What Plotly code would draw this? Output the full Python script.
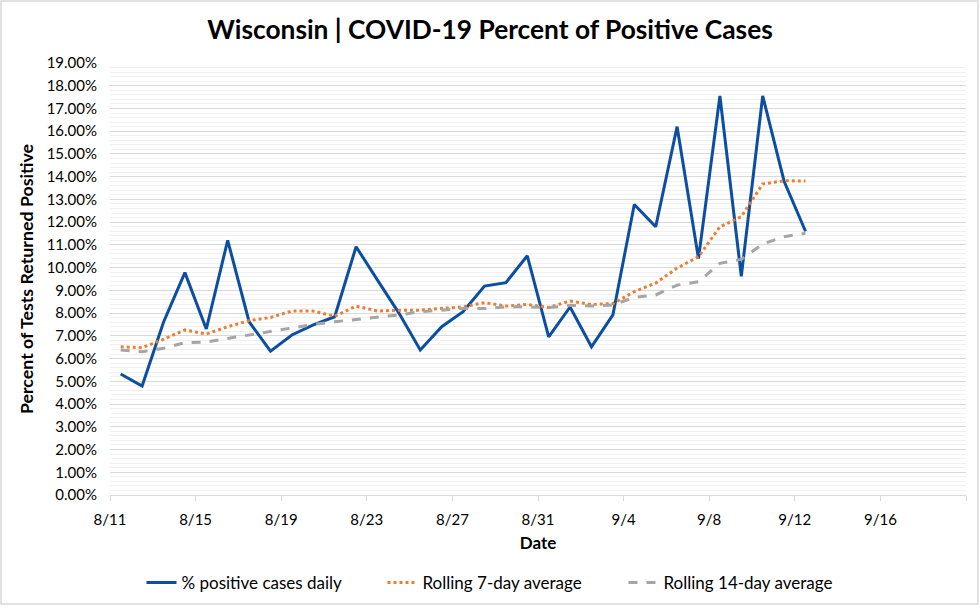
import plotly.graph_objects as go
import pandas as pd

dates = pd.date_range("2020-08-11", "2020-09-12", freq="D")

daily = [5.32, 4.79, 7.60, 9.78, 7.30, 11.20, 7.62, 6.33, 7.04, 7.48, 7.84,
         10.92, 9.45, 8.00, 6.38, 7.40, 8.06, 9.19, 9.34, 10.52, 6.95, 8.27,
         6.52, 7.92, 12.78, 11.80, 16.20, 10.40, 17.55, 9.62, 17.55, 13.80, 11.60]

avg7 = [6.52, 6.48, 6.85, 7.26, 7.08, 7.40, 7.67, 7.81, 8.09, 8.09, 7.86,
        8.31, 8.09, 8.13, 8.13, 8.20, 8.28, 8.46, 8.31, 8.38, 8.25, 8.53,
        8.38, 8.42, 8.94, 9.32, 9.98, 10.48, 11.80, 12.24, 13.68, 13.82, 13.81]

avg14 = [6.38, 6.30, 6.45, 6.70, 6.73, 6.89, 7.04, 7.18, 7.36, 7.50, 7.62,
         7.72, 7.84, 7.92, 8.06, 8.13, 8.20, 8.20, 8.28, 8.28, 8.24, 8.34,
         8.31, 8.36, 8.69, 8.80, 9.23, 9.38, 10.19, 10.36, 11.04, 11.36, 11.51]

# points are drawn in the middle of each day interval (Excel date axis)
xpos = dates + pd.Timedelta(hours=12)

font = "Lato, Calibri, Carlito, sans-serif"

fig = go.Figure()
fig.add_trace(go.Scatter(x=xpos, y=[v / 100 for v in daily], mode="lines",
                         name="% positive cases daily",
                         line=dict(color="#0B4EA2", width=3)))
fig.add_trace(go.Scatter(x=xpos, y=[v / 100 for v in avg7], mode="lines",
                         name="Rolling 7-day average",
                         line=dict(color="#ED7D31", width=3, dash="dot")))
fig.add_trace(go.Scatter(x=xpos, y=[v / 100 for v in avg14], mode="lines",
                         name="Rolling 14-day average",
                         line=dict(color="#A5A5A5", width=3, dash="dash")))

fig.update_layout(
    width=980, height=608,
    margin=dict(l=110, r=14, t=63, b=113),
    paper_bgcolor="white", plot_bgcolor="white",
    font=dict(family=font, size=14, color="#000000"),
    title=dict(text="<b>Wisconsin | COVID-19 Percent of Positive Cases</b>",
               x=0.5, xanchor="center", xref="container",
               y=1 - 30 / 608, yanchor="middle", yref="container",
               font=dict(size=26.3, family=font, color="#000000")),
    showlegend=True,
    legend=dict(orientation="h", xref="container", yref="container",
                x=0.5 + 13 / 980, xanchor="center", y=1 - 583 / 608, yanchor="middle",
                font=dict(size=17, family=font), itemwidth=30,
                tracegroupgap=0, entrywidth=196, entrywidthmode="pixels"),
    xaxis=dict(
        type="date",
        range=["2020-08-11", "2020-09-20"],
        tick0="2020-08-11", dtick=4 * 86400000,
        tickformat="%-m/%-d",
        ticks="outside", ticklen=5, tickcolor="#D9D9D9",
        showline=True, linecolor="#D9D9D9", linewidth=1,
        showgrid=False, zeroline=False,
        tickfont=dict(size=15),
        ticklabelstandoff=6,
        title=dict(text="<b>Date</b>", font=dict(size=17), standoff=10),
    ),
    yaxis=dict(
        range=[0, 0.19],
        dtick=0.01, tick0=0,
        tickformat=".2%",
        showgrid=True, gridcolor="#D9D9D9", gridwidth=1,
        zeroline=False, showline=False,
        tickfont=dict(size=15),
        ticks="", ticklen=0,
        ticklabelstandoff=12,
        minor=dict(dtick=0.002, showgrid=True, gridcolor="#F0F0F0", gridwidth=1),
        title=dict(text="<b>Percent of Tests Returned Positive</b>",
                   font=dict(size=17.8), standoff=8),
    ),
)

# outer chart border
fig.add_shape(type="rect", xref="paper", yref="paper",
              x0=-109 / 856, x1=1 + 12 / 856,
              y0=-(113 - 4) / 432, y1=1 + 62 / 432,
              line=dict(color="#D9D9D9", width=1.5), layer="below")

fig.write_html("out.html")
